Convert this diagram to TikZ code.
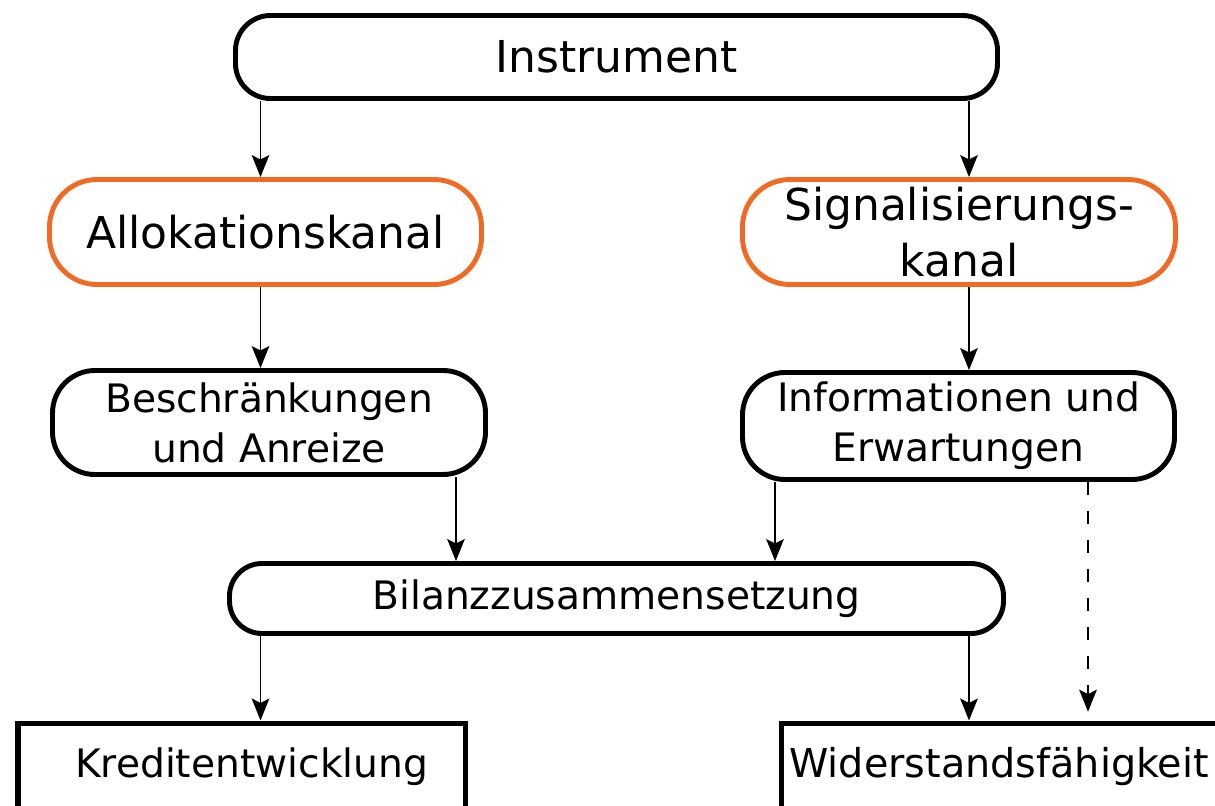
\documentclass[tikz,border=0pt]{standalone}
\usepackage{fontspec}
\setmainfont{DejaVu Sans}
\usetikzlibrary{arrows.meta}
\definecolor{kanalorange}{RGB}{240,106,35}

\begin{document}
\begin{tikzpicture}
\clip (0,0) rectangle (24.3,-16.1);

% columns of the arrows
\coordinate (colL) at (5.21,0);
\coordinate (colM) at (9.12,0);
\coordinate (colN) at (15.50,0);
\coordinate (colR) at (19.38,0);
\coordinate (colD) at (21.76,0);

\begin{scope}[every node/.style={draw,line width=2.8pt,inner sep=0pt,align=center}]
    \node[rounded corners=0.7cm,minimum width=15.24cm,minimum height=1.66cm,
          font=\fontsize{25}{32}\selectfont] (instr) at (12.33,-1.14) {Instrument};
    \node[draw=kanalorange,rounded corners=0.95cm,minimum width=8.64cm,minimum height=2.1cm,
          font=\fontsize{25}{32}\selectfont] (allok) at (5.31,-4.64) {Allokationskanal};
    \node[draw=kanalorange,rounded corners=0.95cm,minimum width=8.66cm,minimum height=2.1cm,
          font=\fontsize{25}{32}\selectfont] (signal) at (19.18,-4.64) {Signalisierungs-\\kanal};
    \node[rounded corners=0.85cm,minimum width=8.66cm,minimum height=2.08cm,
          font=\fontsize{22.3}{28.4}\selectfont] (beschr) at (5.38,-8.45) {Beschränkungen\\und Anreize};
    \node[rounded corners=0.85cm,minimum width=8.64cm,minimum height=2.14cm,
          font=\fontsize{22.3}{28.4}\selectfont] (info) at (19.17,-8.52) {Informationen und\\Erwartungen};
    \node[rounded corners=0.65cm,minimum width=15.48cm,minimum height=1.4cm,
          font=\fontsize{22.3}{28.4}\selectfont] (bilanz) at (12.33,-11.97) {Bilanzzusammensetzung};
    \node[line width=3pt,minimum width=8.94cm,text height=1.09cm,text depth=1.4cm,anchor=north west,
          font=\fontsize{22.3}{28.4}\selectfont] (kredit) at (0.31,-14.41) {\hspace*{0.4cm}Kreditentwicklung};
    \node[line width=3pt,minimum width=8.87cm,text height=1.09cm,text depth=1.4cm,anchor=north west,
          font=\fontsize{22.6}{28.4}\selectfont] (wider) at (15.57,-14.41) {Widerstandsfähigkeit\hspace*{0.15cm}};
\end{scope}

\begin{scope}[>={Stealth[length=12.5pt,width=10pt,inset=2.5pt]},
              every edge/.style={draw,line width=1.1pt}]
    \path [->] (instr.south -| colL) edge (allok.north -| colL);
    \path [->] (instr.south -| colR) edge (signal.north -| colR);
    \path [->] (allok.south -| colL) edge (beschr.north -| colL);
    \path [->] (signal.south -| colR) edge (info.north -| colR);
    \path [->] (beschr.south -| colM) edge (bilanz.north -| colM);
    \path [->] (info.south -| colN) edge (bilanz.north -| colN);
    \path [->] (info.south -| colD) edge[dash pattern=on 7.5pt off 9pt,shorten >=5pt] (wider.north -| colD);
    \path [->] (bilanz.south -| colL) edge (kredit.north -| colL);
    \path [->] (bilanz.south -| colR) edge (wider.north -| colR);
\end{scope}
\end{tikzpicture}
\end{document}
